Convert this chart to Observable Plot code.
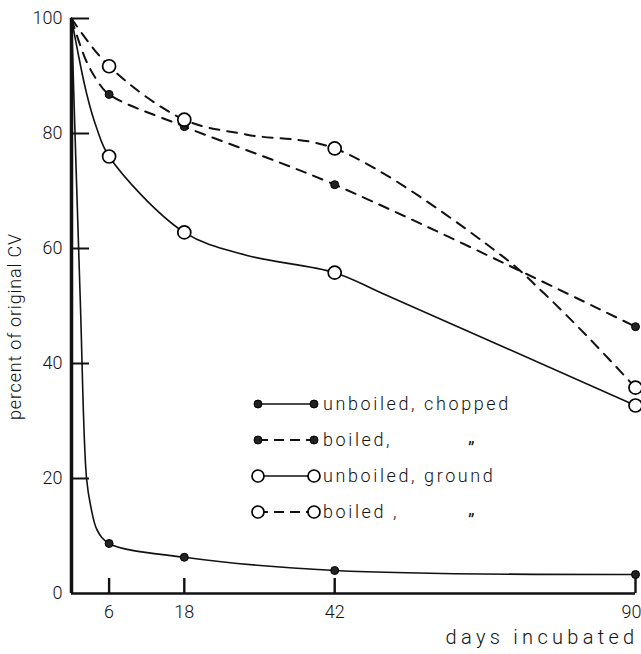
<!DOCTYPE html>
<html><head><meta charset="utf-8">
<script src="https://cdn.jsdelivr.net/npm/d3@7"></script>
<script src="https://cdn.jsdelivr.net/npm/@observablehq/plot@0.6"></script>
<style>
body{margin:0;background:#fff;}
#wrap{position:relative;width:641px;height:654px;}
</style></head><body><div id="wrap"></div>
<script>
// ---- data ----
const days = [0, 6, 18, 42, 90];
const unboiledChopped = [100, 8.7, 6.3, 4.0, 3.3];
const boiledChopped   = [100, 86.8, 81.2, 71.1, 46.4];
const unboiledGround  = [100, 76.0, 62.8, 55.8, 32.7];
const boiledGround    = [100, 91.7, 82.4, 77.4, 35.8];
// extra vertices (no markers there)
const unboiledChoppedTraceDays   = [1.4, 2.4, 3.1, 4.1];
const unboiledChoppedTraceValues = [51, 20, 15, 11];
const boiledChoppedTraceDays     = [2.2, 4.1];
const boiledChoppedTraceValues   = [93.0, 89.2];
const unboiledGroundTraceDays    = [2.4, 4.0, 28, 50];
const unboiledGroundTraceValues  = [87.0, 81.0, 58.8, 52.0];
const boiledGroundTraceDays      = [28, 68.6, 75.4, 82.5];
const boiledGroundTraceValues    = [79.8, 58.8, 52.2, 44.5];

const seriesNames = ["unboiled, chopped", "boiled,", "unboiled, ground", "boiled ,"];
const dittoMarks  = ["", "\u201D", "", "\u201D"];
const xTicks = [6, 18, 42, 90];
const yTicks = [0, 20, 40, 60, 80, 100];
const xLabel = "days incubated";
const yLabel = "percent of original CV";

// ---- build tables ----
const seriesValues = [unboiledChopped, boiledChopped, unboiledGround, boiledGround];
const traceD = [unboiledChoppedTraceDays, boiledChoppedTraceDays, unboiledGroundTraceDays, boiledGroundTraceDays];
const traceV = [unboiledChoppedTraceValues, boiledChoppedTraceValues, unboiledGroundTraceValues, boiledGroundTraceValues];
const dashed = [false, true, false, true];
const openMarker = [false, false, true, true];

const lineRows = [], dotRows = [];
seriesValues.forEach((vals, s) => {
  const pts = days.map((d, i) => ({day: d, value: vals[i], s}));
  traceD[s].forEach((d, i) => pts.push({day: d, value: traceV[s][i], s}));
  pts.sort((a, b) => a.day - b.day);
  lineRows.push(pts);
  days.forEach((d, i) => { if (d > 0) dotRows.push({day: d, value: vals[i], s}); });
});

const FONT = "Roboto, 'DejaVu Sans', sans-serif";
const W = 641, H = 654, mL = 71, mR = 6, mT = 18, mB = 61;
const frameW = W - mL - mR, frameH = H - mT - mB;

const lineMarks = lineRows.map((pts, s) => Plot.line(pts, {
  x: "day", y: "value", curve: "catmull-rom", stroke: "#111",
  strokeWidth: dashed[s] ? 2 : 1.6,
  strokeDasharray: dashed[s] ? "10,8" : null
}));

const chart = Plot.plot({
  width: W, height: H,
  marginLeft: mL, marginRight: mR, marginTop: mT, marginBottom: mB,
  style: {fontFamily: FONT, fontSize: "18px", fontWeight: 300, color: "#111", background: "white"},
  x: {domain: [0, 90]},
  y: {domain: [0, 100]},
  marks: [
    Plot.axisX({ticks: xTicks.slice(0, 3), tickSize: 0, tickPadding: 12, label: null, fontSize: 18}),
    Plot.axisX({ticks: xTicks.slice(3), tickSize: 0, tickPadding: 12, label: null, fontSize: 18, textAnchor: "end", dx: 6}),
    Plot.axisY({ticks: yTicks, tickSize: 0, tickPadding: 9, label: null, fontSize: 18}),
    Plot.ruleX(xTicks, {insetTop: frameH - 15, strokeWidth: 2.4, stroke: "#111"}),
    Plot.ruleY(yTicks.filter(d => d > 0), {insetRight: frameW - 18, strokeWidth: 2, stroke: "#111"}),
    Plot.ruleX([0], {strokeWidth: 3.5, stroke: "#111"}),
    Plot.ruleY([0], {strokeWidth: 2.6, stroke: "#111"}),
    ...lineMarks,
    Plot.dot(dotRows.filter(d => !openMarker[d.s]), {x: "day", y: "value", r: 4, fill: "#222", stroke: "#000", strokeWidth: 1}),
    Plot.dot(dotRows.filter(d => openMarker[d.s]), {x: "day", y: "value", r: 6.5, fill: "white", stroke: "#000", strokeWidth: 1.7}),
    Plot.text([yLabel], {text: d => d, frameAnchor: "left", textAnchor: "start", rotate: -90, dx: -56, dy: 114, fontSize: 18, fill: "#111", className: "ylab"}),
    Plot.text([xLabel], {text: d => d, frameAnchor: "bottom-right", textAnchor: "end", dx: 3, dy: 50, fontSize: 20, fill: "#111", className: "xlab"})
  ]
});
d3.select(chart).selectAll(".ylab text").style("letter-spacing", "0.8px");
d3.select(chart).selectAll(".xlab text").style("letter-spacing", "4.3px");
document.getElementById("wrap").appendChild(chart);

// ---- legend overlay ----
const lg = d3.select("#wrap").append("svg")
  .attr("width", W).attr("height", H)
  .style("position", "absolute").style("left", "0px").style("top", "0px");
const rowY = [404, 440, 476, 512];
const symL = 258, symR = 314, textX = 323, dittoX = 468;
seriesNames.forEach((name, s) => {
  const g = lg.append("g").attr("transform", `translate(0,${rowY[s]})`);
  g.append("line").attr("x1", symL).attr("x2", symR).attr("y1", 0).attr("y2", 0)
    .attr("stroke", "#111").attr("stroke-width", dashed[s] ? 2 : 1.6)
    .attr("stroke-dasharray", dashed[s] ? "10,6" : null);
  [symL, symR].forEach(cx => {
    if (openMarker[s]) g.append("circle").attr("cx", cx).attr("cy", 0).attr("r", 6)
      .attr("fill", "white").attr("stroke", "#000").attr("stroke-width", 1.7);
    else g.append("circle").attr("cx", cx).attr("cy", 0).attr("r", 4)
      .attr("fill", "#222").attr("stroke", "#000").attr("stroke-width", 1);
  });
  g.append("text").attr("x", textX).attr("y", 0).attr("dy", "0.35em")
    .attr("font-family", FONT).attr("font-size", 18).attr("font-weight", 300)
    .attr("letter-spacing", "2.6px").attr("fill", "#111").text(name);
  if (dittoMarks[s]) g.append("text").attr("x", dittoX).attr("y", 0).attr("dy", "0.85em")
    .attr("font-family", FONT).attr("font-size", 18).attr("fill", "#111").text(dittoMarks[s]);
});
</script>
</body></html>
